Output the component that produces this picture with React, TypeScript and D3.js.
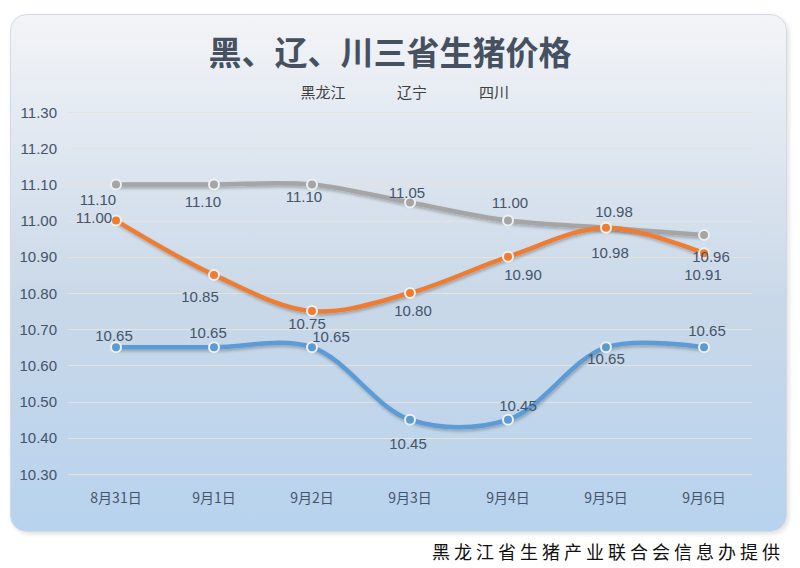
import React, { useEffect, useRef } from 'react';
import * as d3 from 'd3';

// dates along the x axis
const categories = ['8月31日', '9月1日', '9月2日', '9月3日', '9月4日', '9月5日', '9月6日'];

// series values (yuan / kg)
const heilongjiang = [10.65, 10.65, 10.65, 10.45, 10.45, 10.65, 10.65];
const liaoning = [11.0, 10.85, 10.75, 10.8, 10.9, 10.98, 10.91];
const sichuan = [11.1, 11.1, 11.1, 11.05, 11.0, 10.98, 10.96];

const seriesNames = ['黑龙江', '辽宁', '四川'];
const yTicks = [10.3, 10.4, 10.5, 10.6, 10.7, 10.8, 10.9, 11.0, 11.1, 11.2, 11.3];

// label nudges [dx, dy] relative to each point (Excel-style placement)
const blueLabelNudge: [number, number][] = [[-2, -12], [-6, -15], [19, -11], [-2, 24], [10, -14], [0, 11], [3, -17]];
const orangeLabelNudge: [number, number][] = [[-22, -3], [-14, 22], [-5, 12], [3, 17], [15, 18], [4, 25], [-1, 21]];
const grayLabelNudge: [number, number][] = [[-18, 15], [-11, 17], [-8, 12], [-3, -10], [2, -18], [8, -16], [7, 21]];

const W = 800;
const H = 568;

const App: React.FC = () => {
  const svgRef = useRef<SVGSVGElement | null>(null);

  useEffect(() => {
    if (!svgRef.current) return;
    const svg = d3.select(svgRef.current);
    svg.selectAll('*').remove();

    const textColor = '#44546a';
    const labelFont = '"Liberation Sans", "Noto Sans", Arial, sans-serif';
    const cjkFont = '"Noto Sans CJK SC", "Noto Sans", sans-serif';

    const defs = svg.append('defs');
    const grad = defs.append('linearGradient')
      .attr('id', 'bg-grad')
      .attr('x1', 0).attr('y1', 0).attr('x2', 0).attr('y2', 1);
    grad.append('stop').attr('offset', '0%').attr('stop-color', '#f3f4f7');
    grad.append('stop').attr('offset', '55%').attr('stop-color', '#c9d8e8');
    grad.append('stop').attr('offset', '100%').attr('stop-color', '#b8d3ee');

    const shadow = defs.append('filter').attr('id', 'line-shadow')
      .attr('x', '-10%').attr('y', '-20%').attr('width', '120%').attr('height', '140%');
    shadow.append('feDropShadow')
      .attr('dx', 1).attr('dy', 2).attr('stdDeviation', 1.5)
      .attr('flood-color', '#000').attr('flood-opacity', 0.25);

    const cardShadow = defs.append('filter').attr('id', 'card-shadow')
      .attr('x', '-5%').attr('y', '-5%').attr('width', '110%').attr('height', '110%');
    cardShadow.append('feDropShadow')
      .attr('dx', 2).attr('dy', 2).attr('stdDeviation', 2)
      .attr('flood-color', '#000').attr('flood-opacity', 0.12);

    // background card
    svg.append('rect')
      .attr('width', W).attr('height', H).attr('fill', '#ffffff');
    svg.append('rect')
      .attr('x', 10.5).attr('y', 14.5)
      .attr('width', 776).attr('height', 517)
      .attr('rx', 16).attr('ry', 16)
      .attr('fill', 'url(#bg-grad)')
      .attr('stroke', '#d3dae3')
      .attr('stroke-width', 1)
      .attr('filter', 'url(#card-shadow)');

    // scales
    const x = d3.scaleBand<string>()
      .domain(categories)
      .range([67, 753]);
    const y = d3.scaleLinear()
      .domain([10.3, 11.3])
      .range([474, 112]);
    const cx = (c: string) => (x(c) ?? 0) + x.bandwidth() / 2;

    // gridlines
    svg.append('g')
      .selectAll('line')
      .data(yTicks)
      .enter()
      .append('line')
      .attr('x1', 68).attr('x2', 752)
      .attr('y1', (d) => Math.round(y(d)) + 0.5)
      .attr('y2', (d) => Math.round(y(d)) + 0.5)
      .attr('stroke', '#e6e2dc')
      .attr('stroke-width', 1);

    // y tick labels
    svg.append('g')
      .selectAll('text')
      .data(yTicks)
      .enter()
      .append('text')
      .attr('x', 57)
      .attr('y', (d) => y(d))
      .attr('text-anchor', 'end')
      .attr('dominant-baseline', 'central')
      .style('font-family', labelFont)
      .style('font-size', '15px')
      .style('fill', textColor)
      .text((d) => d.toFixed(2));

    // x labels
    svg.append('g')
      .selectAll('text')
      .data(categories)
      .enter()
      .append('text')
      .attr('x', (d) => cx(d))
      .attr('y', 497)
      .attr('text-anchor', 'middle')
      .attr('dominant-baseline', 'central')
      .style('font-family', cjkFont)
      .style('font-size', '14px')
      .style('fill', textColor)
      .text((d) => d);

    // title
    svg.append('text')
      .attr('x', 390).attr('y', 51)
      .attr('text-anchor', 'middle')
      .attr('dominant-baseline', 'central')
      .style('font-family', cjkFont)
      .style('font-size', '33px')
      .style('font-weight', 'bold')
      .style('fill', '#455060')
      .text('黑、辽、川三省生猪价格');

    // legend (text only)
    const legendX = [323, 412, 494];
    svg.append('g')
      .selectAll('text')
      .data(seriesNames)
      .enter()
      .append('text')
      .attr('x', (_d, i) => legendX[i])
      .attr('y', 91)
      .attr('text-anchor', 'middle')
      .attr('dominant-baseline', 'central')
      .style('font-family', cjkFont)
      .style('font-size', '15px')
      .style('fill', '#404040')
      .text((d) => d);

    const series = [
      { name: seriesNames[2], values: sichuan, color: '#a5a5a5', nudge: grayLabelNudge },
      { name: seriesNames[1], values: liaoning, color: '#ed7d31', nudge: orangeLabelNudge },
      { name: seriesNames[0], values: heilongjiang, color: '#5b9bd5', nudge: blueLabelNudge },
    ];

    const line = d3.line<number>()
      .x((_d, i) => cx(categories[i]))
      .y((d) => y(d))
      .curve(d3.curveCatmullRom.alpha(0.5));

    series.forEach((s) => {
      const g = svg.append('g');
      g.append('path')
        .datum(s.values)
        .attr('d', line)
        .attr('fill', 'none')
        .attr('stroke', s.color)
        .attr('stroke-width', 4.5)
        .attr('stroke-linecap', 'round')
        .attr('filter', 'url(#line-shadow)');
      g.selectAll('circle')
        .data(s.values)
        .enter()
        .append('circle')
        .attr('cx', (_d, i) => cx(categories[i]))
        .attr('cy', (d) => y(d))
        .attr('r', 5)
        .attr('fill', s.color)
        .attr('stroke', '#eef0f2')
        .attr('stroke-width', 2);
    });

    // data labels on top
    series.forEach((s) => {
      svg.append('g')
        .selectAll('text')
        .data(s.values)
        .enter()
        .append('text')
        .attr('x', (_d, i) => cx(categories[i]) + s.nudge[i][0])
        .attr('y', (d, i) => y(d) + s.nudge[i][1])
        .attr('text-anchor', 'middle')
        .attr('dominant-baseline', 'central')
        .style('font-family', labelFont)
        .style('font-size', '15px')
        .style('fill', textColor)
        .text((d) => d.toFixed(2));
    });

    // source note
    svg.append('text')
      .attr('x', 784).attr('y', 551)
      .attr('text-anchor', 'end')
      .attr('dominant-baseline', 'central')
      .style('font-family', cjkFont)
      .style('font-size', '18px')
      .style('letter-spacing', '4px')
      .style('fill', '#111111')
      .text('黑龙江省生猪产业联合会信息办提供');
  }, []);

  return (
    <div style={{ position: 'absolute', left: 0, top: 0, width: W, height: H }}>
      <svg ref={svgRef} width={W} height={H} />
    </div>
  );
};

export default App;
